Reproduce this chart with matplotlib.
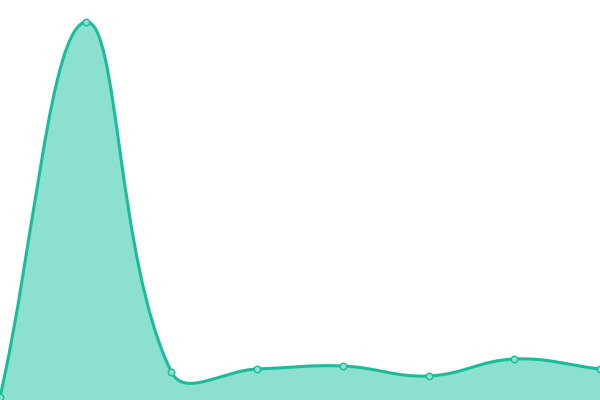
import numpy as np
import matplotlib.pyplot as plt
from matplotlib.path import Path
from matplotlib.patches import PathPatch

labels = ['1', '2', '3', '4', '5', '6', '7', '8']
values = [3, 378, 28, 31, 34, 24, 41, 31]

line_color = '#1abc9c'
fill_color = '#8ce0cf'


def spline_path(xs, ys, t=0.4):
    # chart.js style cardinal spline, computed in pixel space (1 unit = 1px here)
    n = len(xs)
    pts = np.column_stack([xs, ys]).astype(float)
    cps = []
    for i in range(n):
        prev = pts[max(i - 1, 0)]
        cur = pts[i]
        nxt = pts[min(i + 1, n - 1)]
        d01 = np.hypot(*(cur - prev))
        d12 = np.hypot(*(nxt - cur))
        tot = d01 + d12
        s01 = d01 / tot if tot else 0
        s12 = d12 / tot if tot else 0
        cp_prev = cur - t * s01 * (nxt - prev)
        cp_next = cur + t * s12 * (nxt - prev)
        cps.append((cp_prev, cp_next))
    verts = [pts[0]]
    codes = [Path.MOVETO]
    for i in range(1, n):
        verts += [cps[i - 1][1], cps[i][0], pts[i]]
        codes += [Path.CURVE4] * 3
    return verts, codes


fig = plt.figure(figsize=(6, 4), dpi=100)
ax = fig.add_axes([0, 0, 1, 1])
ax.set_xlim(0, 600)
ax.set_ylim(0, 400)
ax.axis('off')

xs = np.linspace(0, 600, len(values))
verts, codes = spline_path(xs, values)

area_verts = verts + [(600, 0), (0, 0), verts[0]]
area_codes = codes + [Path.LINETO, Path.LINETO, Path.CLOSEPOLY]
ax.add_patch(PathPatch(Path(area_verts, area_codes), facecolor=fill_color,
                       edgecolor='none'))
ax.add_patch(PathPatch(Path(verts, codes), facecolor='none',
                       edgecolor=line_color, lw=2.2, capstyle='round'))
ax.scatter(xs, values, s=22, facecolor=fill_color, edgecolor=line_color,
           linewidth=1, zorder=3, clip_on=False)

fig.savefig('out.png')
